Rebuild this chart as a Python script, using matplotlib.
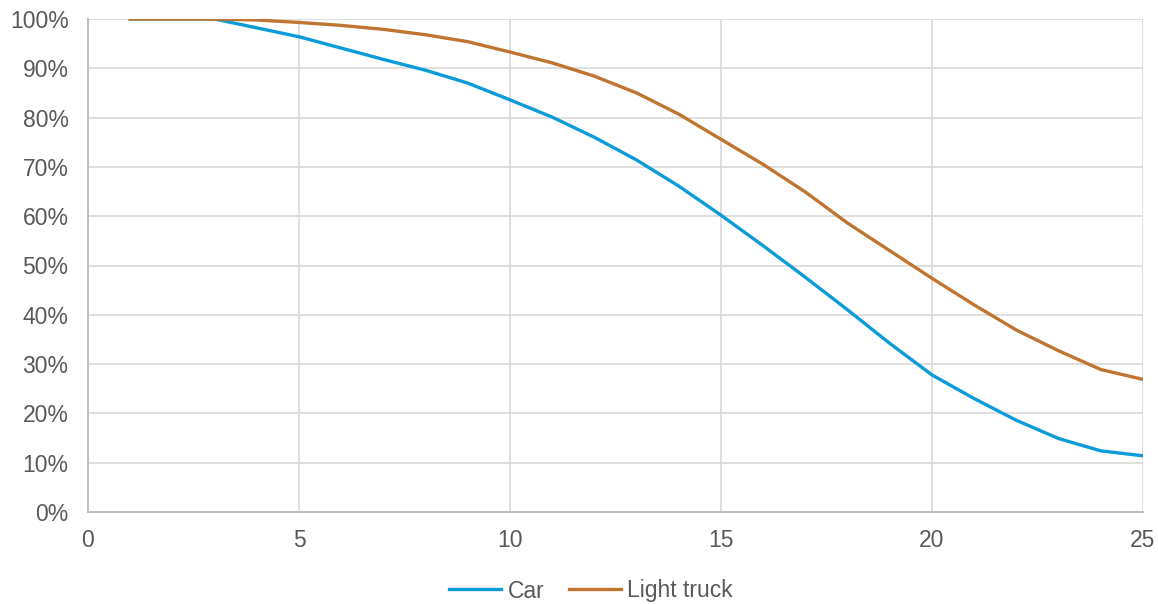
import matplotlib
matplotlib.use("Agg")
import matplotlib.pyplot as plt
from matplotlib.ticker import FuncFormatter, MultipleLocator

years = list(range(1, 26))
car = [100, 100, 100, 98.2, 96.4, 94.1, 91.8, 89.6, 87.0, 83.6, 80.1, 76.0, 71.4,
       66.1, 60.2, 54.0, 47.6, 41.0, 34.2, 27.8, 23.0, 18.6, 14.9, 12.4, 11.4]
light_truck = [100, 100, 100, 99.8, 99.3, 98.7, 97.9, 96.8, 95.4, 93.3, 91.1, 88.4, 85.0,
               80.7, 75.6, 70.5, 64.9, 58.6, 53.0, 47.4, 42.0, 36.9, 32.7, 28.9, 26.9]
series_names = ["Car", "Light truck"]
colors = ["#0A9BD8", "#BF7430"]

plt.rcParams['font.family'] = ['Liberation Sans', 'DejaVu Sans']
FS = 16.5

fig = plt.figure(figsize=(11.58, 6.04), dpi=100)
ax = fig.add_axes([88/1158, 1-512/604, (1143-88)/1158, (512-19)/604])

ax.plot(years, car, color=colors[0], lw=2.4, label=series_names[0])
ax.plot(years, light_truck, color=colors[1], lw=2.4, label=series_names[1])

ax.set_xlim(0, 25)
ax.set_ylim(0, 100)
ax.xaxis.set_major_locator(MultipleLocator(5))
ax.yaxis.set_major_locator(MultipleLocator(10))
ax.yaxis.set_major_formatter(FuncFormatter(lambda v, p: f"{int(round(v))}%"))

ax.grid(True, color="#D9D9D9", lw=1.2)
ax.set_axisbelow(True)
for s in ["top", "right"]:
    ax.spines[s].set_visible(False)
for s in ["left", "bottom"]:
    ax.spines[s].set_color("#BFBFBF")
    ax.spines[s].set_linewidth(1.5)
ax.tick_params(length=0, labelsize=FS, colors="#595959")
ax.tick_params(axis='x', pad=12)
ax.tick_params(axis='y', pad=14)

leg = ax.legend(loc="center", bbox_to_anchor=(591/1158, 1-591/604), bbox_transform=fig.transFigure,
                ncol=2, frameon=False, fontsize=FS, handlelength=2.27, handletextpad=0.3,
                columnspacing=1.05)
for t in leg.get_texts():
    t.set_color("#595959")

fig.savefig("out.png", dpi=100)
